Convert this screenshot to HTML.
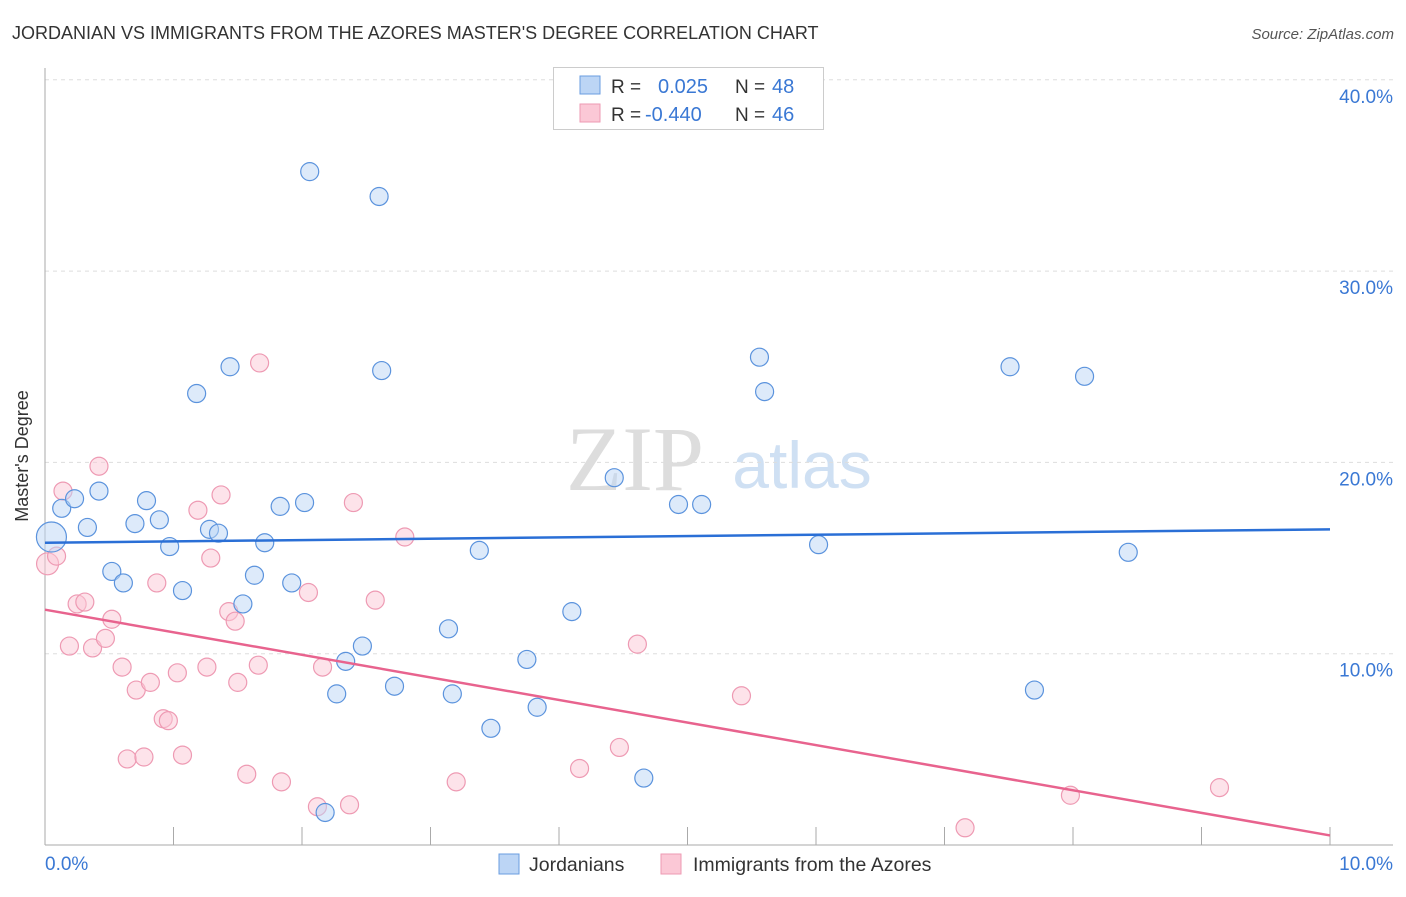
<!DOCTYPE html>
<html><head><meta charset="utf-8"><style>
body{margin:0;background:#fff;font-family:"Liberation Sans",sans-serif;}
svg text{font-family:"Liberation Sans",sans-serif;}
</style></head><body>
<svg id="c" width="1406" height="892" xmlns="http://www.w3.org/2000/svg">
<text x="12" y="39" font-size="18" fill="#333">JORDANIAN VS IMMIGRANTS FROM THE AZORES MASTER'S DEGREE CORRELATION CHART</text>
<text x="1394" y="39" font-size="15" fill="#555" text-anchor="end" font-style="italic">Source: ZipAtlas.com</text>
<text x="28" y="456" font-size="18" fill="#333" text-anchor="middle" transform="rotate(-90 28 456)">Master's Degree</text>
<g><text x="635" y="490" font-size="92" fill="#ddd" style="font-family:'Liberation Serif',serif" text-anchor="middle">ZIP</text><text x="802" y="488" font-size="66" fill="#cfe0f3" text-anchor="middle">atlas</text></g>
<g id="grid"></g><g id="axes"></g><g id="marks"></g>
<g>
<rect x="553.5" y="67.5" width="270" height="62" fill="#fff" stroke="#ccc"/>
<rect x="580" y="76" width="20" height="18" fill="#bcd5f5" stroke="#6a9de0"/>
<rect x="580" y="104" width="20" height="18" fill="#fbc8d6" stroke="#ee9ab3"/>
<text x="611" y="93" font-size="19" fill="#333">R =</text><text x="658" y="93" font-size="20" fill="#3a78d4">0.025</text>
<text x="735" y="93" font-size="19" fill="#333">N =</text><text x="772" y="93" font-size="20" fill="#3a78d4">48</text>
<text x="611" y="121" font-size="19" fill="#333">R =</text><text x="645" y="121" font-size="20" fill="#3a78d4">-0.440</text>
<text x="735" y="121" font-size="19" fill="#333">N =</text><text x="772" y="121" font-size="20" fill="#3a78d4">46</text>
</g>
<g>
<rect x="499" y="854" width="20" height="20" fill="#bcd5f5" stroke="#6a9de0"/>
<text x="529" y="871" font-size="19.5" fill="#333">Jordanians</text>
<rect x="661" y="854" width="20" height="20" fill="#fbc8d6" stroke="#ee9ab3"/>
<text x="693" y="871" font-size="19.5" fill="#333">Immigrants from the Azores</text>
</g>
</svg>
<script>
const xTicksLabels=["0.0%","10.0%"];
const yTicks=[10,20,30,40];
const blueX=[0.05,0.13,0.23,0.33,0.42,0.52,0.61,0.70,0.79,0.89,0.97,1.07,1.18,1.28,1.35,1.44,1.54,1.63,1.71,1.83,1.92,2.02,2.06,2.18,2.27,2.34,2.47,2.60,2.62,2.72,3.14,3.17,3.38,3.47,3.75,3.83,4.10,4.43,4.66,4.93,5.11,5.56,5.60,6.02,7.51,7.70,8.09,8.43];
const blueY=[16.1,17.6,18.1,16.6,18.5,14.3,13.7,16.8,18.0,17.0,15.6,13.3,23.6,16.5,16.3,25.0,12.6,14.1,15.8,17.7,13.7,17.9,35.2,1.7,7.9,9.6,10.4,33.9,24.8,8.3,11.3,7.9,15.4,6.1,9.7,7.2,12.2,19.2,3.5,17.8,17.8,25.5,23.7,15.7,25.0,8.1,24.5,15.3];
const pinkX=[0.02,0.09,0.14,0.19,0.25,0.31,0.37,0.42,0.47,0.52,0.60,0.64,0.71,0.77,0.82,0.87,0.92,0.96,1.03,1.07,1.19,1.26,1.29,1.37,1.43,1.48,1.50,1.57,1.66,1.67,1.84,2.05,2.12,2.16,2.37,2.40,2.57,2.80,3.20,4.16,4.47,4.61,5.42,7.16,7.98,9.14];
const pinkY=[14.7,15.1,18.5,10.4,12.6,12.7,10.3,19.8,10.8,11.8,9.3,4.5,8.1,4.6,8.5,13.7,6.6,6.5,9.0,4.7,17.5,9.3,15.0,18.3,12.2,11.7,8.5,3.7,9.4,25.2,3.3,13.2,2.0,9.3,2.1,17.9,12.8,16.1,3.3,4.0,5.1,10.5,7.8,0.9,2.6,3.0];
const blueTrend=[15.8,16.5];
const pinkTrend=[12.3,0.5];
const X0=45,X1=1330,Y0=845,PX=19.13;
const sx=v=>X0+(X1-X0)*v/10, sy=v=>Y0-v*PX;
const NS="http://www.w3.org/2000/svg";
function mk(t,a,p){const e=document.createElementNS(NS,t);for(const k in a)e.setAttribute(k,a[k]);p.appendChild(e);return e;}
const grid=document.getElementById('grid'),axes=document.getElementById('axes'),marks=document.getElementById('marks');
yTicks.forEach(t=>{
 const l=mk('line',{x1:X0,x2:1393,y1:sy(t),y2:sy(t),stroke:'#ddd','stroke-dasharray':'4,4'},grid);
 
 
 const tx=mk('text',{x:1393,y:sy(t)+23,'font-size':19,fill:'#3a78d4','text-anchor':'end'},axes);
 tx.textContent=t.toFixed(1)+'%';
 
 
});
const ax=mk('line',{x1:X0,x2:X0,y1:68,y2:Y0,stroke:'#aaa'},axes);


const bx=mk('line',{x1:X0,x2:1393,y1:Y0,y2:Y0,stroke:'#aaa'},axes);


for(let i=1;i<=10;i++){const t=mk('line',{x1:sx(i),x2:sx(i),y1:827,y2:Y0,stroke:'#aaa'},axes);
 
 }
xTicksLabels.forEach((s,i)=>{const t=mk('text',{x:i?1393:45,y:870,'font-size':19,fill:'#3a78d4','text-anchor':i?'end':'start'},axes);t.textContent=s;
 
 });
function pts(xs,ys,fill,stroke,name){xs.forEach((x,i)=>{const r=(i===0)?(name==='blue-point'?15:11):9;
 const c=mk('circle',{cx:sx(x),cy:sy(ys[i]),r:r,fill:fill,'fill-opacity':0.5,stroke:stroke,'stroke-width':1.2},marks);
 
 });}
pts(pinkX,pinkY,'#fbc8d6','#ee9ab3','pink-point');
pts(blueX,blueY,'#bcd5f5','#5b93dd','blue-point');
const bl=mk('line',{x1:sx(0),x2:sx(10),y1:sy(blueTrend[0]),y2:sy(blueTrend[1]),stroke:'#2a6fd6','stroke-width':2.5},marks);


const pl=mk('line',{x1:sx(0),x2:sx(10),y1:sy(pinkTrend[0]),y2:sy(pinkTrend[1]),stroke:'#e8638e','stroke-width':2.5},marks);


</script>
</body></html>
